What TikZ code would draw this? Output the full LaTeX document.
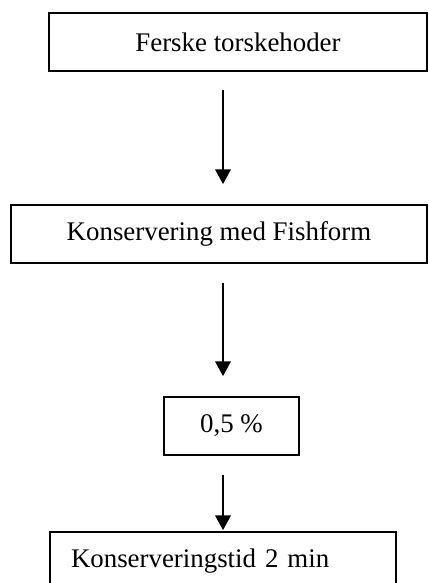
\documentclass[tikz,border=0pt]{standalone}
\usepackage{fontspec}
\setmainfont{Liberation Serif}
\usetikzlibrary{arrows.meta}

\begin{document}
\begin{tikzpicture}[x=0.48pt,y=0.48pt,
    stepbox/.style={draw,line width=0.9pt,minimum height=58*0.48pt,inner sep=0pt,font=\fontsize{12.9}{15}\selectfont},
    flow/.style={line width=0.65pt,-{Triangle[width=7.5pt,length=7pt]}}]
    % Parameters
    \def\px{0.48pt} % one pixel of the reference

    % Frame of the page
    \useasboundingbox (0,0) rectangle (428,583);
    \clip (0,0) rectangle (428,583);

    % Boxes
    \node[stepbox,minimum width=378*\px] (heads) at (238,541) {Ferske torskehoder};
    \node[stepbox,minimum width=416*\px] (preserve) at (219,349) {Konservering med Fishform};
    \node[stepbox,minimum width=135*\px] (conc) at (231.5,157) {0,5 \%};
    \node[stepbox,text width=304*\px,inner xsep=21*\px,align=left] (time) at (223,22) {Konserveringstid 2 min};

    % Arrows
    \coordinate (spine) at (223,0);
    \draw[flow,shorten <=18*\px,shorten >=20*\px] (heads.south -| spine) -- (preserve.north -| spine);
    \draw[flow,shorten <=19*\px,shorten >=20*\px] (preserve.south -| spine) -- (conc.north -| spine);
    \draw[flow,shorten <=19*\px,shorten >=1*\px] (conc.south -| spine) -- (time.north -| spine);
\end{tikzpicture}
\end{document}
